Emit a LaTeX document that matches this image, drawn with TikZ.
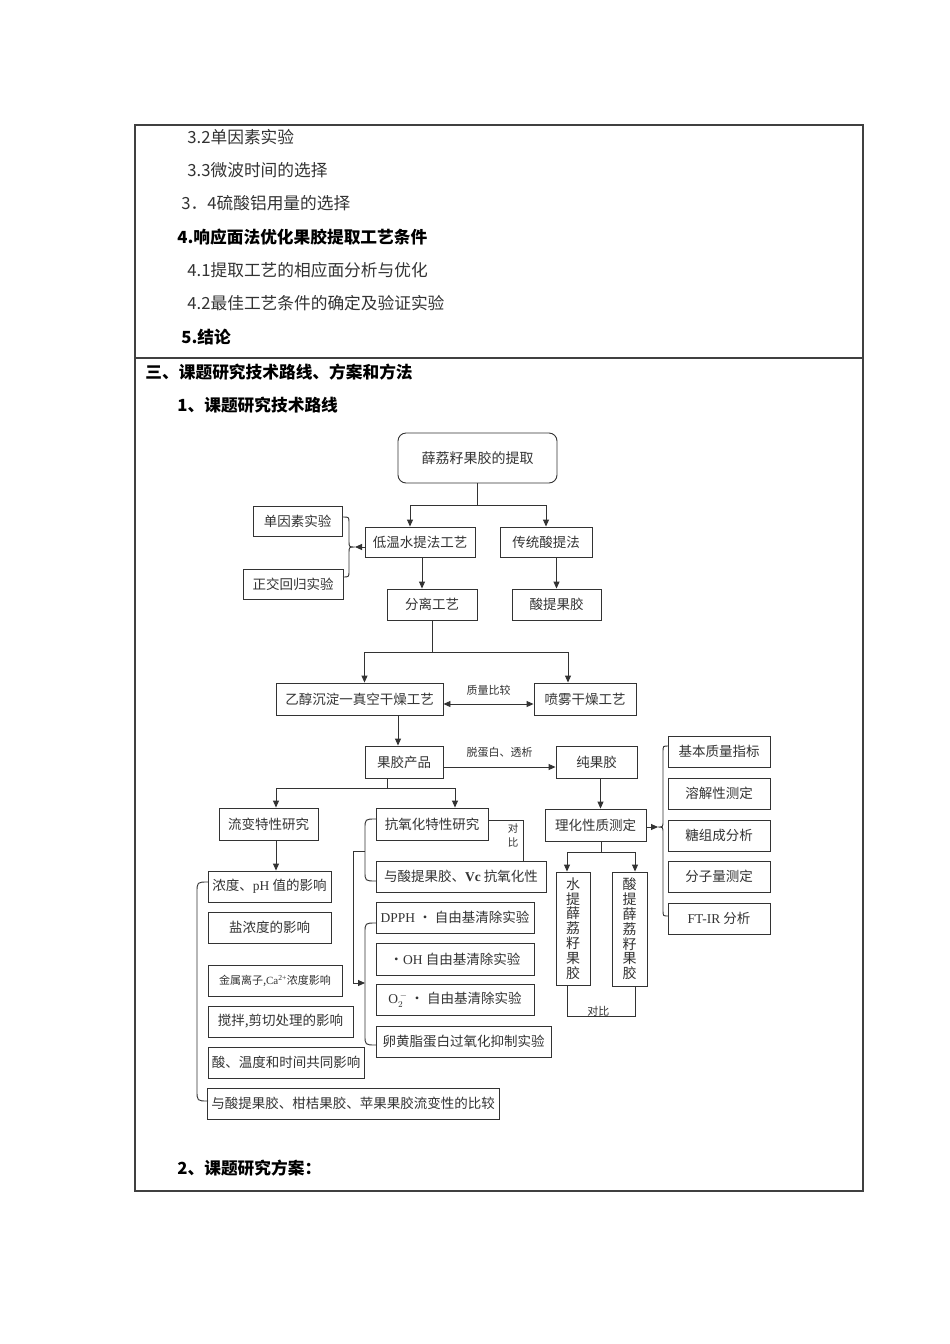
\documentclass[tikz,border=0pt]{standalone}
\usepackage{fontspec}
\setmainfont{Noto Sans CJK SC}
\newfontfamily\lat{Liberation Serif}
\usetikzlibrary{arrows.meta,calc}

\begin{document}
\begin{tikzpicture}[x=1pt,y=-1pt,color=black!80,line width=0.9pt,
  box/.style={draw,inner sep=0pt,minimum height=31pt,font=\fontsize{13.5}{15}\selectfont},
  lbl/.style={inner sep=0pt,font=\fontsize{11}{13}\selectfont},
  arr/.style={-{Triangle[length=7pt,width=6pt]}},
  txt/.style={anchor=west,inner sep=0pt,font=\fontsize{16.7}{19}\selectfont},
  hd/.style={anchor=west,inner sep=0pt,text=black,font=\fontsize{16.7}{19}\selectfont\bfseries}]
  \fill[white] (0,0) rectangle (950,1344);
  \useasboundingbox (0,0) rectangle (950,1344);
  \draw[line width=1.2pt,black!75] (135,125) rectangle (863,1191);
  \draw[line width=1.2pt,black!75] (135,358) -- (863,358);
  \node[txt] (t32) at (187,137) {3.2单因素实验};
  \node[txt] (t33) at (187,170) {3.3微波时间的选择};
  \node[txt] (t34) at (181,203) {3．4硫酸铝用量的选择};
  \node[hd] (t4) at (177,237) {4.响应面法优化果胶提取工艺条件};
  \node[txt] (t41) at (187,270) {4.1提取工艺的相应面分析与优化};
  \node[txt] (t42) at (187,303) {4.2最佳工艺条件的确定及验证实验};
  \node[hd] (t5) at (181,337) {5.结论};
  \node[hd] (s3) at (145,372) {三、课题研究技术路线、方案和方法};
  \node[hd] (s31) at (177,405) {1、课题研究技术路线};
  \node[hd] (s32) at (177,1168) {2、课题研究方案：};

  \node[box,rounded corners=8pt,minimum width=159pt,minimum height=50pt,font=\fontsize{14}{16}\selectfont] (tq) at (477.5,458) {薛荔籽果胶的提取};
  \node[box,minimum width=110pt,minimum height=30pt] (dw) at (420,542) {低温水提法工艺};
  \node[box,minimum width=92pt,minimum height=30pt] (ct) at (546,542) {传统酸提法};
  \node[box,minimum width=89pt,minimum height=30pt] (dy) at (297.5,521) {单因素实验};
  \node[box,minimum width=100pt,minimum height=30pt] (zj) at (293,584) {正交回归实验};
  \node[box,minimum width=90pt] (fl) at (432,604.5) {分离工艺};
  \node[box,minimum width=89pt] (sg) at (556.5,604.5) {酸提果胶};
  \node[box,minimum width=167pt,minimum height=32pt] (yc) at (359.5,699) {乙醇沉淀一真空干燥工艺};
  \node[box,minimum width=102pt,minimum height=32pt] (pw) at (585,699) {喷雾干燥工艺};
  \node[box,minimum width=78pt,minimum height=32pt] (gp) at (404,762) {果胶产品};
  \node[box,minimum width=81pt,minimum height=32pt] (cg) at (596.5,762) {纯果胶};
  \node[box,minimum width=99pt,minimum height=32pt] (lb) at (268.5,824) {流变特性研究};
  \node[box,minimum width=112pt,minimum height=32pt] (ky) at (432,824) {抗氧化特性研究};
  \node[box,minimum width=101pt,minimum height=32pt] (lh) at (595.5,825) {理化性质测定};
  \foreach \t/\y [count=\i] in {基本质量指标/751.5,溶解性测定/793.5,糖组成分析/835.5,分子量测定/876.5,{\lat FT-IR} 分析/918.5}
    \node[box,minimum width=102pt] (r\i) at (719,\y) {\t};
  \node[box,minimum width=34pt,minimum height=113pt,align=center,font=\fontsize{14}{14.8}\selectfont] (sz) at (573,928.5) {水\\提\\薛\\荔\\籽\\果\\胶};
  \node[box,minimum width=35pt,minimum height=114pt,align=center,font=\fontsize{14}{14.8}\selectfont] (sz2) at (629.5,929) {酸\\提\\薛\\荔\\籽\\果\\胶};
  \node[box,minimum width=123pt] (nd) at (269.5,886.5) {浓度、{\lat pH} 值的影响};
  \node[box,minimum width=123pt] (yn) at (269.5,927.5) {盐浓度的影响};
  \node[box,minimum width=134pt,font=\fontsize{11}{13}\selectfont] (js) at (275,980.5) {金属离子,{\lat Ca\textsuperscript{2+}}浓度影响};
  \node[box,minimum width=145pt] (jb) at (280.5,1021.5) {搅拌,剪切处理的影响};
  \node[box,minimum width=156pt] (sw) at (286,1062.5) {酸、温度和时间共同影响};
  \node[box,minimum width=292pt] (bj) at (353,1103.5) {与酸提果胶、柑桔果胶、苹果果胶流变性的比较};
  \node[box,minimum width=170pt] (vc) at (461,876.5) {与酸提果胶、{\lat\bfseries Vc} 抗氧化性};
  \node[box,minimum width=158pt] (dp) at (455,917.5) {{\lat DPPH} · 自由基清除实验};
  \node[box,minimum width=158pt,minimum height=32pt] (oh) at (455,959) {·{\lat OH} 自由基清除实验};
  \node[box,minimum width=158pt] (o2) at (455,999.5) {{\lat O}$_2^{\,-}$ · 自由基清除实验};
  \node[box,minimum width=175pt] (ld) at (463.5,1041.5) {卵黄脂蛋白过氧化抑制实验};

  \coordinate (j1) at ($(tq.south)+(0,22)$);
  \draw (tq.south) -- (j1);
  \draw[arr] (j1) -| ([xshift=-10pt]dw.north);
  \draw[arr] (j1) -| (ct.north);
  \draw (343,517) .. controls (349,517) .. (349,523) -- (349,541) .. controls (349,547) .. (355,547) .. controls (349,547) .. (349,553) -- (349,571) .. controls (349,577) .. (343,577);
  \coordinate (bc1) at (355,547);
  \draw[arr] (dw.west |- bc1) -- (bc1);
  \draw[arr] ([xshift=2pt]dw.south) -- ([xshift=2pt]dw.south |- fl.north);
  \draw[arr] (ct.south -| sg.north) -- (sg.north);
  \coordinate (j2) at ($(fl.south)+(0,32)$);
  \draw (fl.south) -- (j2);
  \draw[arr] (j2) -| ([xshift=5pt]yc.north);
  \draw[arr] (j2) -| ([xshift=-17pt]pw.north);
  \draw[{Triangle[length=7pt,width=6pt]}-{Triangle[length=7pt,width=6pt]}] ([yshift=-5pt]yc.east) -- ([yshift=-5pt]pw.west) node[lbl,midway,above=8pt] (zl) {质量比较};
  \draw[arr] ([xshift=-6pt]gp.north |- yc.south) -- ([xshift=-6pt]gp.north);
  \draw[arr] ([yshift=-5pt]gp.east) -- ([yshift=-5pt]gp.east -| cg.west) node[lbl,midway,above=9pt] (tb) {脱蛋白、透析};
  \coordinate (j3) at ($([xshift=-17pt]gp.south)+(0,10)$);
  \draw ([xshift=-17pt]gp.south) -- (j3);
  \draw[arr] (j3) -| ([xshift=7.5pt]lb.north);
  \draw[arr] (j3) -| ([xshift=23pt]ky.north);
  \draw[arr] ([xshift=4pt]cg.south) -- ([xshift=4pt]cg.south |- lh.north);
  \draw (668,746) .. controls (663,746) .. (663,752) -- (663,821) .. controls (663,827) .. (658,827) .. controls (663,827) .. (663,833) -- (663,910) .. controls (663,916) .. (668,916);
  \coordinate (bc2) at (658,827);
  \draw[arr] (lh.east |- bc2) -- (bc2);
  \coordinate (j4) at ($([xshift=5.5pt]lh.south)+(0,11)$);
  \draw ([xshift=5.5pt]lh.south) -- (j4);
  \draw[arr] (j4) -| ([xshift=-6pt]sz.north);
  \draw[arr] (j4) -| ([xshift=5.5pt]sz2.north);
  \draw ([xshift=-6pt]sz.south) -- ++(0,31) coordinate (d1) -| ([xshift=5.5pt]sz2.south);
  \path (d1) -- (d1 -| sz2.south) node[lbl,midway,above=0pt] (db2) {对比};
  \draw[arr] ([xshift=7.5pt]lb.south) -- ([xshift=7.5pt]lb.south |- nd.north);
  \draw (208,882) .. controls (197,882) .. (197,893) -- (197,1090) .. controls (197,1101) .. (208,1101);
  \draw ([yshift=4pt]ky.east) -| ([xshift=62pt]vc.north);
  \node[lbl,align=center,font=\fontsize{10.5}{14}\selectfont] (db1) at (513,835) {对\\比};
  \draw (376,819) .. controls (365,819) .. (365,829) -- (365,871) .. controls (365,881) .. (376,881);
  \draw (376,923) .. controls (365,923) .. (365,933) -- (365,1035) .. controls (365,1045) .. (376,1045);
  \coordinate (m1) at (365,851);
  \coordinate (m2) at (365,983);
  \draw[arr] (m1) -- ++(-12,0) |- (m2);
\end{tikzpicture}
\end{document}
